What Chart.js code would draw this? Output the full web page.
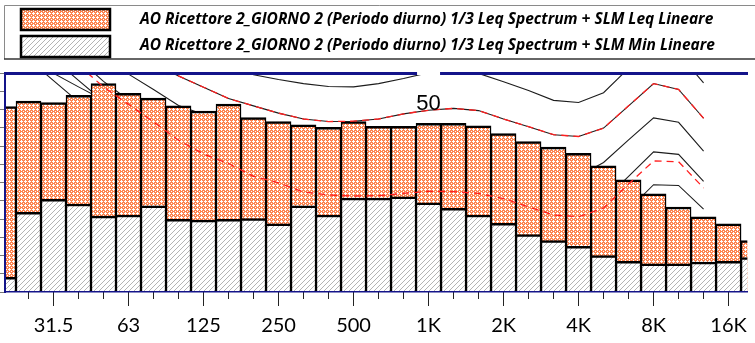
<!DOCTYPE html>
<html>
<head>
<meta charset="utf-8">
<title>AO Ricettore 2 - spettro 1/3 ottava</title>
<script src="https://cdn.jsdelivr.net/npm/chart.js@4.4.1/dist/chart.umd.min.js"></script>
<style>
  html, body { margin: 0; padding: 0; background: #fff; }
  canvas { display: block; }
</style>
</head>
<body>
<canvas id="spectrum" width="755" height="343"></canvas>
<script>
// bande di terzo d'ottava, 20 Hz - 20 kHz
const bands = ['20', '25', '31.5', '40', '50', '63', '80', '100', '125', '160', '200', '250', '315', '400',
  '500', '630', '800', '1K', '1.25K', '1.6K', '2K', '2.5K', '3.15K', '4K', '5K', '6.3K', '8K', '10K',
  '12.5K', '16K', '20K'];
const tickLabels = ['31.5', '63', '125', '250', '500', '1K', '2K', '4K', '8K', '16K'];

const seriesNames = [
  'AO Ricettore 2_GIORNO 2 (Periodo diurno) 1/3 Leq Spectrum + SLM Leq Lineare',
  'AO Ricettore 2_GIORNO 2 (Periodo diurno) 1/3 Leq Spectrum + SLM Min Lineare'
];

// dB
const leqValues = [50.8, 52.3, 51.9, 53.9, 57.1, 54.4, 53.1, 51.0, 49.6, 51.5, 47.8, 46.7, 45.8, 45.1, 46.7,
  45.4, 45.4, 46.2, 46.2, 45.5, 43.4, 41.2, 39.7, 38.0, 34.6, 30.7, 26.9, 23.3, 20.6, 18.7, 14.1];
const minValues = [4.0, 21.8, 25.4, 24.1, 20.8, 21.1, 23.6, 19.9, 19.7, 19.9, 20.1, 18.7, 23.6, 21.1, 25.7,
  25.7, 26.1, 24.4, 22.9, 21.1, 18.8, 15.7, 14.1, 12.5, 10.0, 8.4, 7.7, 7.7, 8.2, 8.4, 9.4];

// isofoniche, 20 Hz - 12.5 kHz
const iso60 = [95, 90, 85, 81, 77, 73.5, 70, 67, 64, 61.7, 59.5, 58.2, 57.1, 56.3, 56.2, 57.1, 58.5, 60.1,
  60.8, 59.9, 57.6, 55.2, 52.5, 51.9, 54.6, 61.3, 66.9, 65.3, 57.3];
const iso50 = [88, 83, 78, 74, 70, 66, 62.5, 59.2, 56.1, 53.0, 51.0, 49.0, 47.4, 46.7, 46.8, 47.4, 48.8, 49.8,
  50.3, 49.7, 47.4, 45.3, 43.1, 42.6, 44.9, 51.0, 57.1, 55.5, 47.6];
const iso40 = [82, 77, 72, 68, 64, 59.7, 55.5, 51.1, 48.6, 45.5, 43.5, 42.3, 41.3, 40.7, 40.3, 40.2, 40.3, 40.0,
  39.0, 38.5, 37.5, 35.5, 33.0, 31.7, 35.5, 41.7, 47.7, 46.5, 38.6];
const iso30 = [76, 71, 67, 63.8, 57.7, 52.6, 47.5, 43.5, 40.0, 37.5, 35.5, 34.0, 32.5, 31.5, 31.0, 30.5, 30.3,
  30.0, 29.0, 28.0, 27.0, 25.0, 23.0, 22.0, 25.1, 31.7, 38.4, 37.7, 30.3];
const iso20 = [72, 68, 63.8, 58.0, 52.2, 47.0, 42.5, 38.5, 35.0, 32.0, 29.5, 27.5, 25.5, 23.5, 22.0, 21.0, 20.5,
  20.0, 19.0, 18.0, 16.5, 14.5, 13.0, 12.5, 14.0, 22.6, 29.4, 29.2, 22.7];
const iso10 = [68, 63.6, 59.9, 56.2, 52.6, 45, 38, 32, 27, 23, 20, 17.5, 15.5, 13.5, 12.5, 11, 10.5, 10, 9, 8,
  6.5, 4.5, 3, 2.5, 4, 9, 18, 19, 13];
const iso0 = [69, 63.8, 57.9, 52.1, 45, 38, 31, 25, 20, 16, 13, 10.5, 8, 6.5, 5, 4, 3.5, 3, 2.5, 1.5, 0, -2,
  -3.5, -4, -1, 6, 13, 14, 11];

// isofoniche passanti per le componenti tonali (tratteggio rosso)
const tonalHigh = [88, 83, 78, 74, 70, 66, 62.5, 59.2, 56.1, 53.0, 51.0, 49.0, 47.4, 46.7, 46.8, 47.4, 48.8,
  49.8, 50.3, 49.7, 47.4, 45.3, 43.1, 42.6, 44.9, 51.0, 57.1, 55.5, 47.6];
const tonalLow = [72, 67, 64, 62.1, 56.2, 51.4, 46.6, 41.6, 37.8, 35.2, 31.7, 29.9, 27.4, 26.6, 26.3, 26.4,
  27.0, 27.6, 27.5, 27.0, 25.6, 23.3, 21.1, 20.6, 23.0, 29.6, 35.9, 35.7, 28.5];

const toPoints = vals => vals.map((v, i) => ({ x: i, y: v }));

function makePattern(w, h, draw) {
  const c = document.createElement('canvas');
  c.width = w; c.height = h;
  const g = c.getContext('2d');
  draw(g);
  return g.createPattern(c, 'repeat');
}
const orangeFill = makePattern(4, 4, g => {
  g.fillStyle = '#fd8450';
  g.fillRect(0, 0, 4, 4);
  g.fillStyle = '#ffffff';
  g.fillRect(1, 0, 1, 3);
  g.fillRect(0, 1, 3, 1);
  g.fillRect(3, 3, 1, 1);
});
const greyFill = makePattern(5, 5, g => {
  g.fillStyle = '#ffffff';
  g.fillRect(0, 0, 5, 5);
  g.fillStyle = '#b4b4b4';
  for (let i = 0; i < 5; i++) g.fillRect(4 - i, i, 1, 1);
});

const navy = '#14148a';
const xMin = 0.06, xMax = 29.75;

const legendAndLabels = {
  id: 'legendAndLabels',
  afterDraw(chart) {
    const { ctx, scales } = chart;
    const ds = chart.data.datasets;
    ctx.save();
    // riquadro legenda
    ctx.strokeStyle = '#8a8a8a';
    ctx.lineWidth = 1;
    ctx.beginPath();
    ctx.moveTo(4.5, 59);
    ctx.lineTo(4.5, 5.5);
    ctx.lineTo(chart.width, 5.5);
    ctx.stroke();
    ctx.strokeStyle = '#333';
    ctx.lineWidth = 1.5;
    ctx.beginPath();
    ctx.moveTo(4, 59);
    ctx.lineTo(chart.width, 59);
    ctx.stroke();

    [0, 1].forEach(i => {
      const top = 9 + i * 27;
      ctx.fillStyle = ds[i].backgroundColor;
      ctx.fillRect(21, top, 89, 21);
      ctx.lineWidth = 2.5;
      ctx.strokeStyle = '#000';
      ctx.strokeRect(21, top, 89, 21);
      ctx.fillStyle = '#000';
      ctx.font = 'italic bold 15.5px "Open Sans"';
      ctx.textBaseline = 'alphabetic';
      ctx.fillText(ds[i].label, 140, 23.5 + i * 26);
    });

    // etichetta isofonica
    const x1k = scales.x.getPixelForValue(bands.indexOf('1K'));
    ctx.fillStyle = '#fff';
    ctx.fillRect(x1k - 11.5, chart.chartArea.top - 2, 23, 4);
    ctx.fillStyle = '#000';
    ctx.font = '22px "Liberation Sans"';
    ctx.textAlign = 'center';
    ctx.fillText('50', x1k, scales.y.getPixelForValue(50));
    ctx.restore();
  }
};

const contour = vals => ({
  type: 'line', data: toPoints(vals), borderColor: '#1c1c1c', borderWidth: 1.1,
  pointRadius: 0, tension: 0, order: 6, clip: 0
});
const tonal = vals => ({
  type: 'line', data: toPoints(vals), borderColor: '#ff1f1f', borderWidth: 1.3, borderDash: [7, 5],
  pointRadius: 0, tension: 0, order: 1, clip: 0
});
const barBorder = { top: 2.5, left: 1.5, right: 1.5, bottom: 0 };

new Chart(document.getElementById('spectrum'), {
  type: 'bar',
  data: {
    datasets: [
      { label: seriesNames[0], data: toPoints(leqValues), backgroundColor: orangeFill, borderColor: '#000',
        borderWidth: barBorder, grouped: false, barPercentage: 1, categoryPercentage: 1, order: 3, clip: 0 },
      { label: seriesNames[1], data: toPoints(minValues), backgroundColor: greyFill, borderColor: '#000',
        borderWidth: barBorder, grouped: false, barPercentage: 1, categoryPercentage: 1, order: 2, clip: 0 },
      contour(iso60), contour(iso50), contour(iso40), contour(iso30), contour(iso20), contour(iso10), contour(iso0),
      tonal(tonalHigh), tonal(tonalLow)
    ]
  },
  options: {
    responsive: false,
    animation: false,
    events: [],
    layout: { padding: { top: 73, left: 0, right: 0, bottom: -3 } },
    plugins: { legend: { display: false }, tooltip: { enabled: false } },
    scales: {
      x: {
        type: 'linear', position: 'bottom', min: xMin, max: xMax, offset: false,
        afterBuildTicks: s => { s.ticks = tickLabels.map(l => ({ value: bands.indexOf(l) })); },
        ticks: { callback: v => bands[v], color: '#000', font: { family: 'Lato', size: 20 }, padding: 8,
          maxRotation: 0, autoSkip: false },
        grid: { offset: false, drawOnChartArea: false, tickLength: 14, tickColor: '#222', tickWidth: 1 },
        border: { color: navy, width: 1.5, z: 1 }
      },
      xm: {
        type: 'linear', axis: 'x', position: { y: 0 }, min: xMin, max: xMax, offset: false,
        afterBuildTicks: s => { s.ticks = bands.map((b, i) => ({ value: i })).filter(t => t.value > xMin && t.value < xMax); },
        ticks: { display: false },
        grid: { offset: false, drawOnChartArea: false, tickLength: 7, tickColor: '#222', tickWidth: 1 },
        border: { display: false }
      },
      xt: {
        type: 'linear', axis: 'x', position: 'top', min: xMin, max: xMax, offset: false,
        ticks: { display: false },
        grid: { offset: false, drawOnChartArea: false, drawTicks: false },
        border: { color: navy, width: 3, z: 1 }
      },
      y: {
        type: 'linear', position: 'left', min: 0, max: 60,
        ticks: { display: false, stepSize: 5 },
        grid: { drawOnChartArea: false, tickLength: 5, tickColor: '#777' },
        border: { color: navy, width: 2, z: 1 }
      }
    }
  },
  plugins: [legendAndLabels]
});
</script>
</body>
</html>
